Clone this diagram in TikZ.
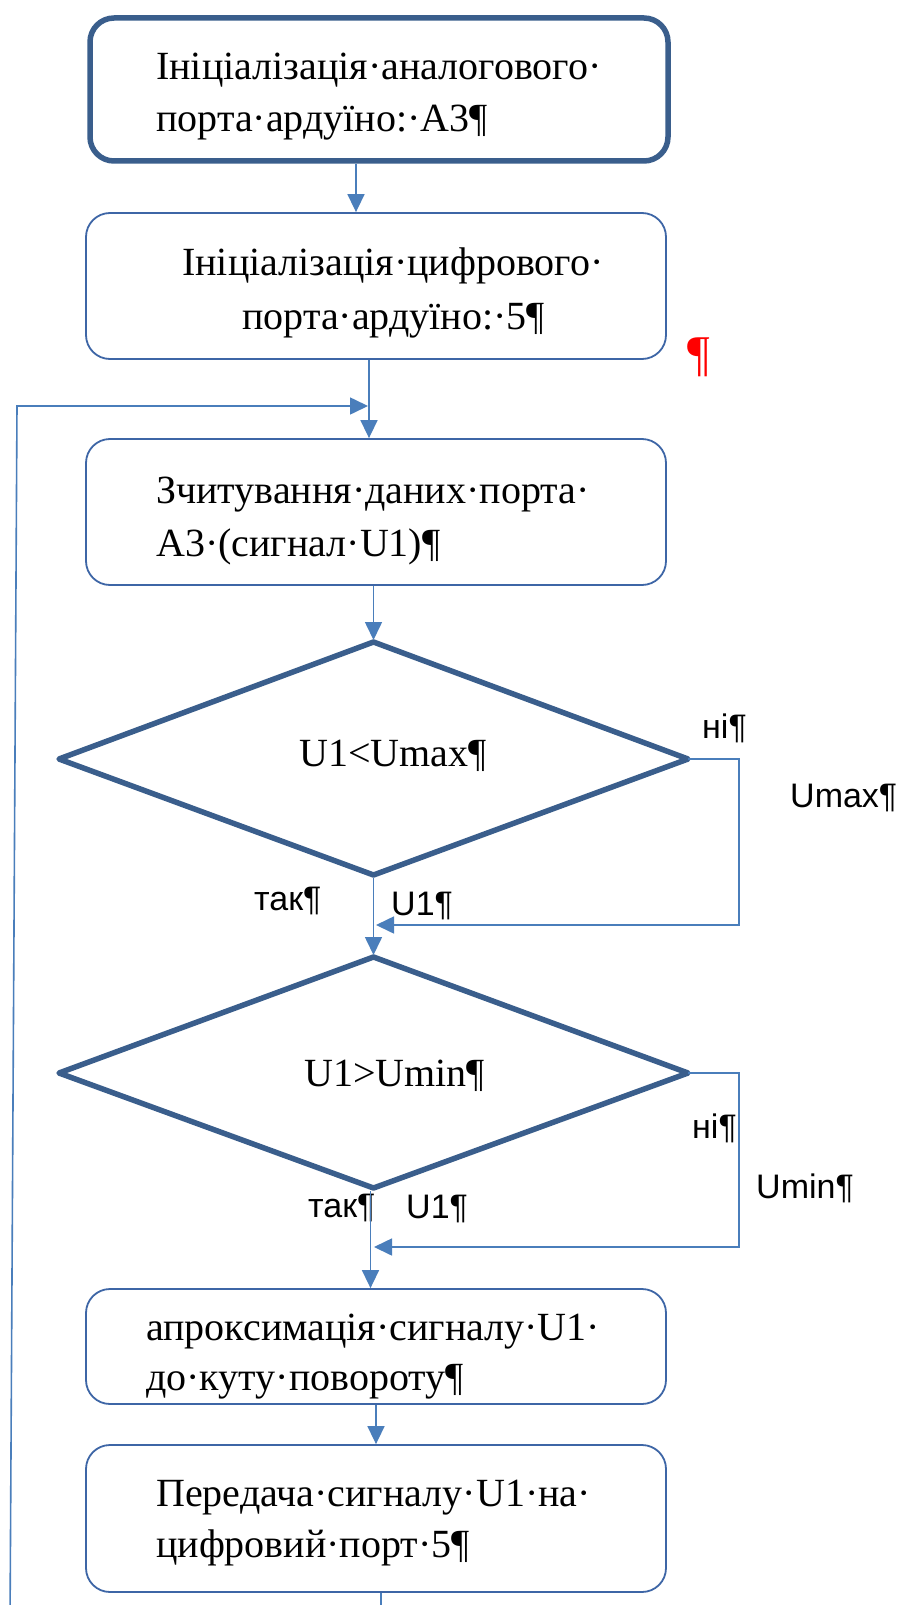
\documentclass[tikz,border=0pt]{standalone}
\usepackage{fontspec}
\setmainfont{Liberation Serif}
\newfontfamily\labfont{Liberation Sans}
\usetikzlibrary{arrows.meta}
\definecolor{thickc}{HTML}{3A5E8C}
\definecolor{thinc}{HTML}{3E66A6}
\definecolor{arrc}{HTML}{4A7EBB}
\begin{document}
\begin{tikzpicture}[x=1pt,y=-1pt,
  boxthin/.style={draw=thinc, line width=1.8pt, rounded corners=24pt, minimum width=580pt, minimum height=146pt, inner sep=0pt},
  boxthick/.style={draw=thickc, line width=5.5pt, rounded corners=24pt, minimum width=578pt, minimum height=143pt, inner sep=0pt},
  dia/.style={draw=thickc, line width=5.5pt, line join=round},
  txt/.style={anchor=base west, inner sep=0pt, font=\fontsize{40}{48}\selectfont},
  lab/.style={anchor=base west, inner sep=0pt, font=\labfont\fontsize{34}{40}\selectfont},
  conn/.style={draw=arrc, line width=1.6pt},
  arr/.style={conn, -{Triangle[length=18pt,width=17pt]}}]
\useasboundingbox (0,0) rectangle (901,1605);
\clip (0,0) rectangle (901,1605);
\fill[white] (0,0) rectangle (901,1605);

% boxes
\node[boxthick] (b1) at (379,89.5) {};
\node[boxthin] (b2) at (376,286) {};
\node[boxthin] (b3) at (376,512) {};
\node[boxthin, minimum height=115pt] (b5) at (376,1346.5) {};
\node[boxthin, minimum height=147pt] (b6) at (376,1518.5) {};

% decision diamonds
\coordinate (d1t) at (373.5,642);
\coordinate (d1r) at (688,759);
\coordinate (d1b) at (373.5,875);
\coordinate (d1l) at (59,759);
\coordinate (d2t) at (373.5,957);
\coordinate (d2r) at (688,1073);
\coordinate (d2b) at (373.5,1188);
\coordinate (d2l) at (59,1073);
\draw[dia] (d1t) -- (d1r) -- (d1b) -- (d1l) -- cycle;
\draw[dia] (d2t) -- (d2r) -- (d2b) -- (d2l) -- cycle;

% texts
\node[txt] (t1a) at (156,80) {Ініціалізація·аналогового·};
\node[txt] (t1b) at (156,132) {порта·ардуїно:·А3¶};
\node[txt] (t2a) at (182,276) {Ініціалізація·цифрового·};
\node[txt] (t2b) at (242,329) {порта·ардуїно:·5¶};
\node[txt] (t3a) at (156,503) {Зчитування·даних·порта·};
\node[txt] (t3b) at (156,556) {А3·(сигнал·U1)¶};
\node[txt] (td1) at (299,766) {U1<Umax¶};
\node[txt] (td2) at (304,1086) {U1>Umin¶};
\node[txt] (t5a) at (146,1340) {апроксимація·сигналу·U1·};
\node[txt] (t5b) at (146,1390) {до·куту·повороту¶};
\node[txt] (t6a) at (156,1506) {Передача·сигналу·U1·на·};
\node[txt] (t6b) at (156,1557) {цифровий·порт·5¶};
\node[txt, text=red, font=\fontsize{50}{56}\selectfont] (pil) at (687,370) {¶};

% labels
\node[lab] (n1) at (702,738) {ні¶};
\node[lab] (um1) at (790,807) {Umax¶};
\node[lab] (y1) at (254,910) {так¶};
\node[lab] (u1a) at (391,915) {U1¶};
\node[lab] (n2) at (692,1138) {ні¶};
\node[lab] (um2) at (756,1198) {Umin¶};
\node[lab] (y2) at (308,1217) {так¶};
\node[lab] (u1b) at (406,1218) {U1¶};

% coordinates
\coordinate (r1) at (739,925);
\coordinate (j1) at (376,925);
\coordinate (r2) at (739,1247);
\coordinate (j2) at (374,1247);
\coordinate (end1) at (381,1625);
\coordinate (end2) at (10,1625);
\coordinate (lt) at (17,406);
\coordinate (lp) at (368,406);

% connectors
\draw[arr] ([xshift=-23pt]b1.south) -- ([xshift=-20pt]b2.north);
\draw[arr] ([xshift=-7pt]b2.south) -- ([xshift=-7pt]b3.north);
\draw[arr] ([xshift=-2.5pt]b3.south) -- ([yshift=2pt]d1t);
\draw[arr] ([yshift=-3pt]d1b) -- ([yshift=2pt]d2t);
\draw[arr] ([xshift=-3pt,yshift=-3pt]d2b) -- ([xshift=-5.5pt]b5.north);
\draw[arr] (b5.south) -- (b6.north);
\draw[conn] ([xshift=5pt]b6.south) -- (end1);
\draw[arr] (d1r) -| (r1) -- (j1);
\draw[arr] (d2r) -| (r2) -- (j2);
\draw[arr] (end2) -- (lt) -- (lp);
\end{tikzpicture}
\end{document}
